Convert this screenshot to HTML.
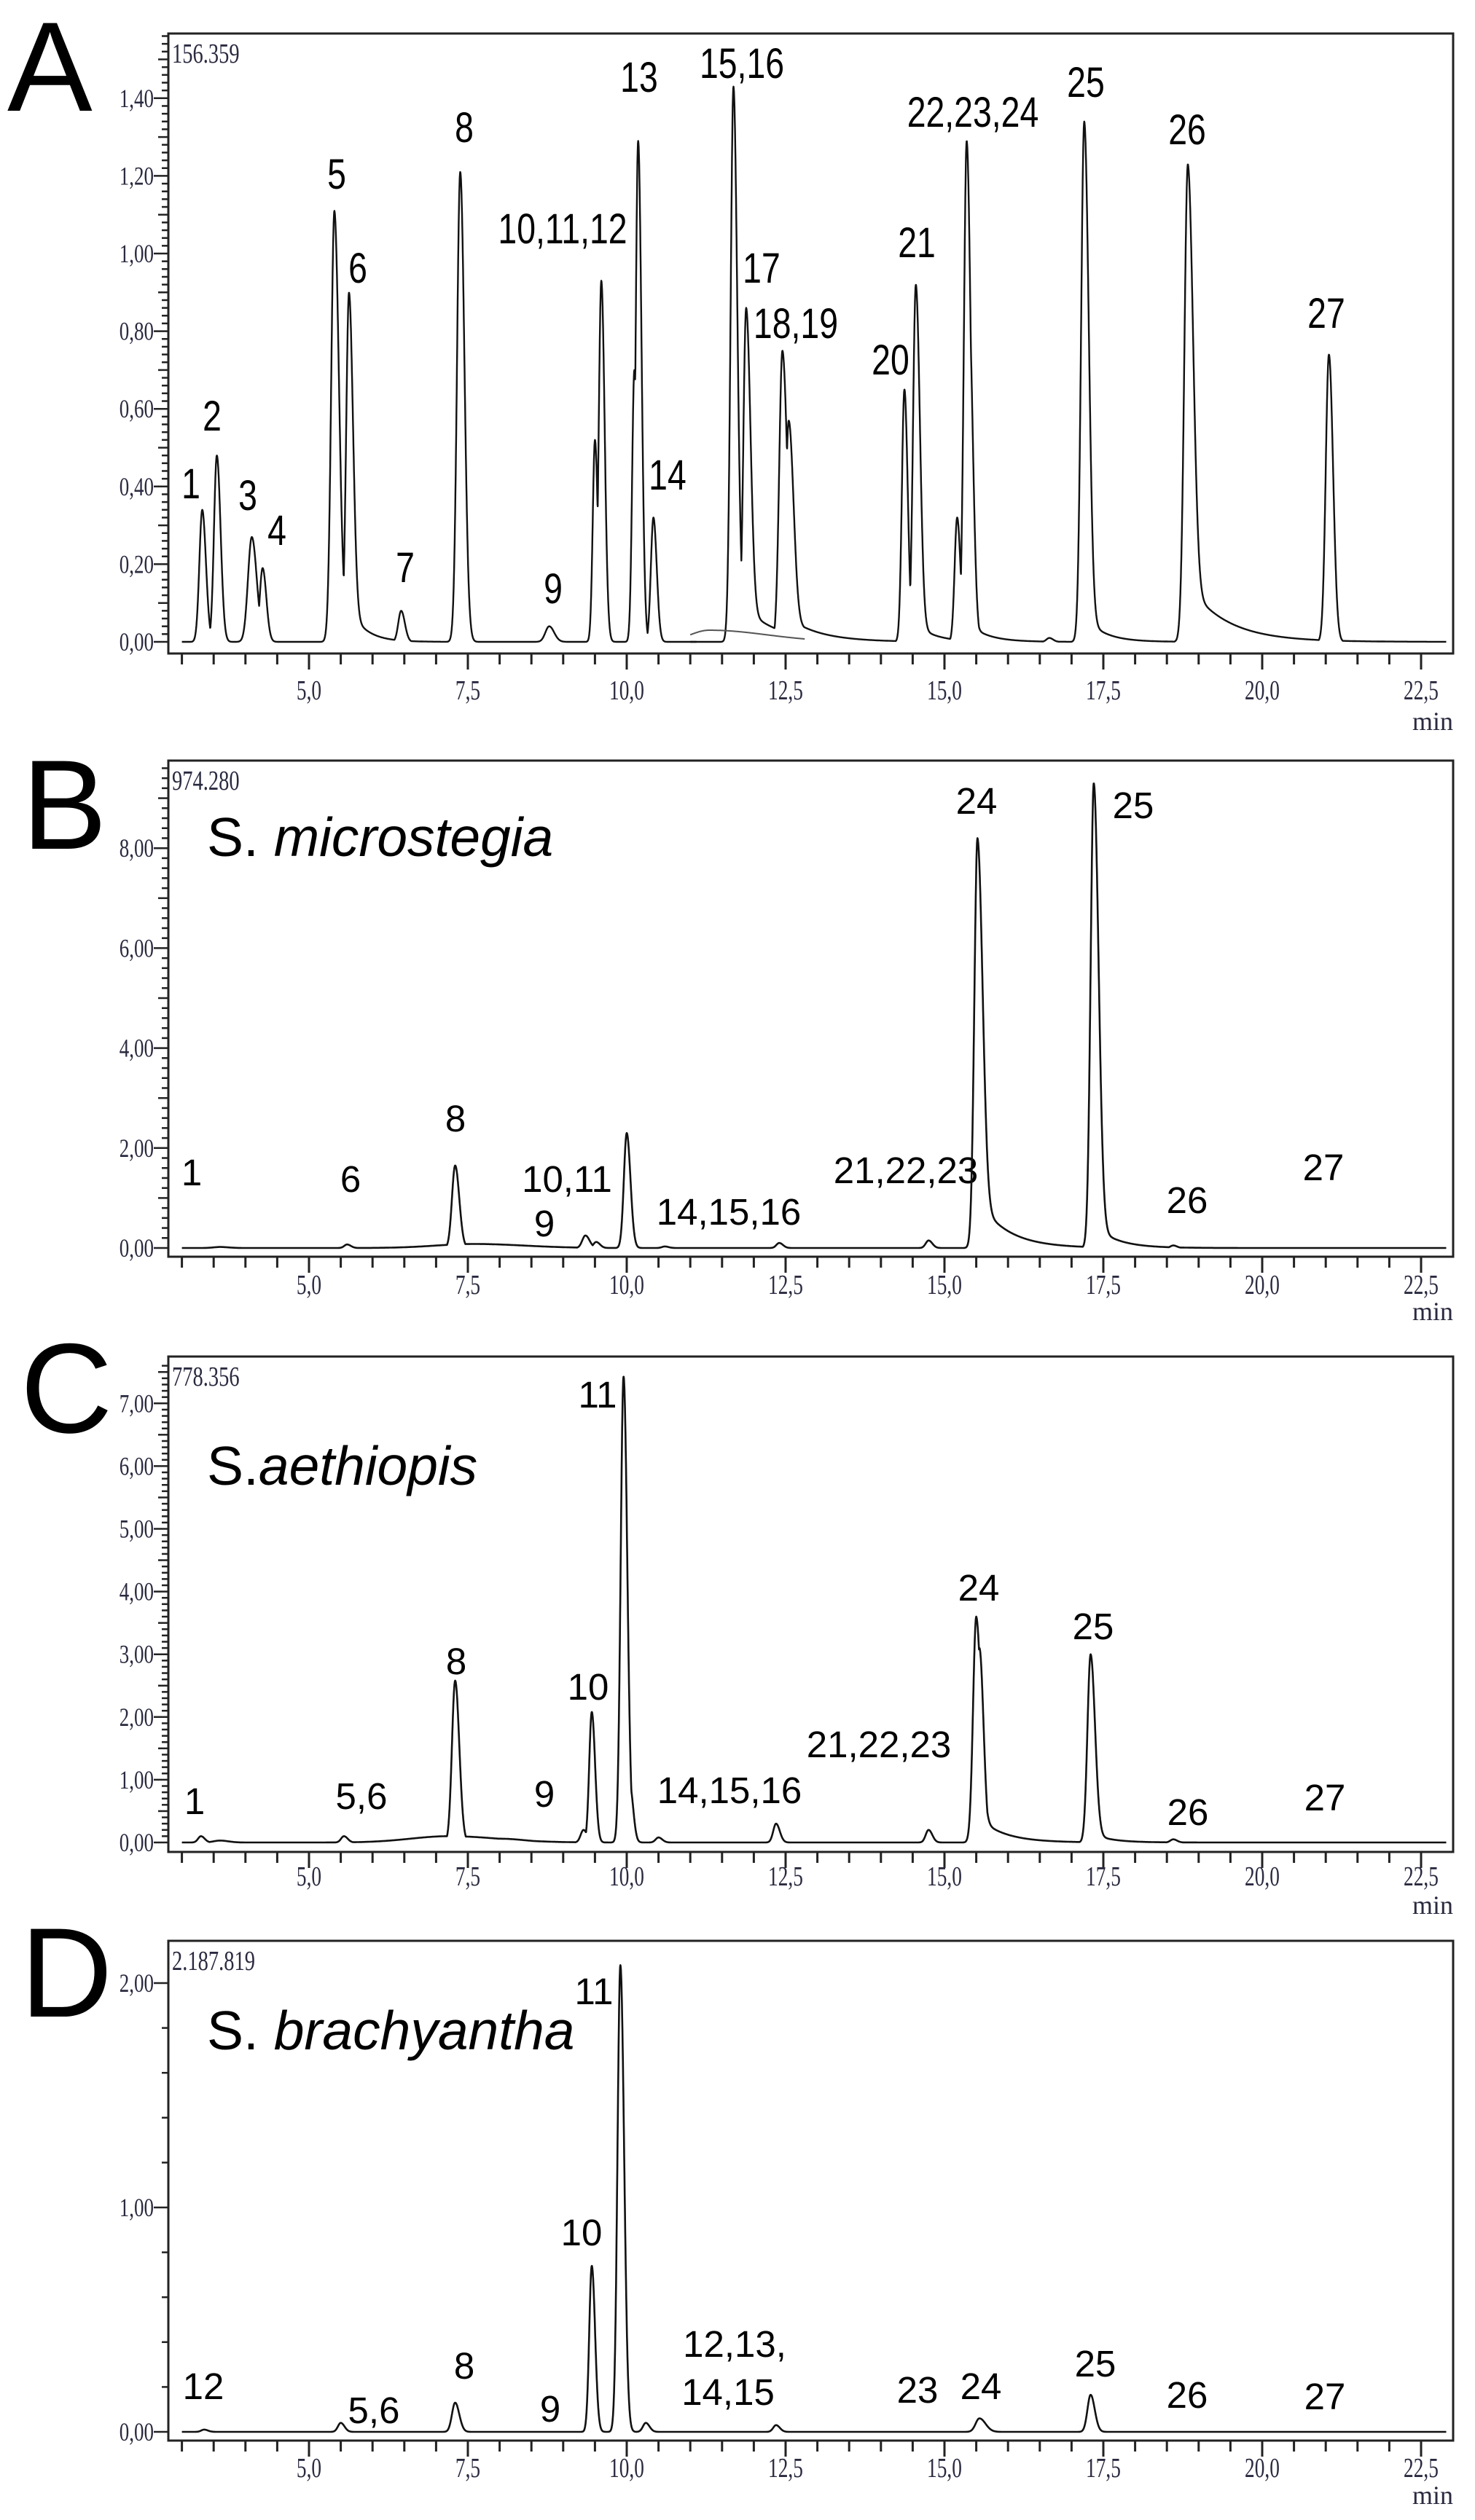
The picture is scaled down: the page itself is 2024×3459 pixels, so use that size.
<!DOCTYPE html>
<html><head><meta charset="utf-8">
<style>
html,body{margin:0;padding:0;background:#fff;}
svg{display:block;}
.lab{font-family:"Liberation Sans",Arial,sans-serif;fill:#000;}
.tk{font-family:"Liberation Serif",serif;fill:#2a2a40;}
</style></head>
<body>
<svg id="s" width="2024" height="3459" viewBox="0 0 2024 3459" xmlns="http://www.w3.org/2000/svg"></svg>
<script>
const S=document.getElementById('s');
let out='';
function X(t){return 424+(t-5)*87.2;}
function pk(t,p){
  const [t0,h,s0,r0,k0,tau0]=p; const s=s0||0.045, r=r0||1.3, k=k0||0, tau=tau0||0.3;
  if(t<t0){const z=(t-t0)/s;return h*Math.exp(-0.5*z*z);}
  const z=(t-t0)/(s*r);
  return h*((1-k)*Math.exp(-0.5*z*z)+k*Math.exp(-(t-t0)/tau));
}
function trace(peaks,y0,ppu,t1,t2,w,col){
  let d='';
  for(let t=t1;t<=t2;t+=0.004){
    let v=0;for(const p of peaks)v=Math.max(v,pk(t,p));
    const y=y0-v*ppu;
    d+=(d?'L':'M')+X(t).toFixed(1)+' '+y.toFixed(1);
  }
  out+=`<path d="${d}" fill="none" stroke="${col||'#111'}" stroke-width="${w||2.6}" stroke-linejoin="round"/>`;
}
function panel(cfg){
  const L=231,R=1994;
  out+=`<rect x="${L}" y="${cfg.top}" width="${R-L}" height="${cfg.axis-cfg.top}" fill="none" stroke="#222" stroke-width="3"/>`;
  for(let t=3.0;t<=22.51;t+=0.5){
    const x=X(t); const maj=Math.abs(t/2.5-Math.round(t/2.5))<1e-6;
    out+=`<line x1="${x}" y1="${cfg.axis}" x2="${x}" y2="${cfg.axis+(maj?22:15)}" stroke="#222" stroke-width="3"/>`;
    if(maj&&t>=5) out+=`<text class="tk" x="${x}" y="${cfg.xl}" font-size="38" text-anchor="middle" transform="translate(${x} 0) scale(0.72 1) translate(${-x} 0)">${t.toFixed(1).replace('.',',')}</text>`;
  }
  out+=`<text class="tk" x="1994" y="${cfg.ml}" font-size="36" text-anchor="end" fill="#111">min</text>`;
  const n=Math.round(cfg.ymax/cfg.minor);
  for(let i=0;i<=n;i++){
    const v=i*cfg.minor,y=cfg.y0-v*cfg.ppu; if(y<cfg.top+3)break;
    const isMaj=Math.abs(v/cfg.major-Math.round(v/cfg.major))<1e-6;
    const isMid=cfg.mid&&Math.abs(v/cfg.mid-Math.round(v/cfg.mid))<1e-6;
    const len=isMaj?20:(isMid?14:9);
    out+=`<line x1="${L-len}" y1="${y}" x2="${L}" y2="${y}" stroke="#222" stroke-width="2.5"/>`;
    if(isMaj){
      const tx=L-20;
      out+=`<text class="tk" x="${tx}" y="${y+12}" font-size="36" text-anchor="end" transform="translate(${tx} 0) scale(0.75 1) translate(${-tx} 0)">${v.toFixed(2).replace('.',',')}</text>`;
    }
  }
  out+=`<text class="tk" x="236" y="${cfg.top+40}" font-size="38" fill="#4a2020" transform="translate(236 0) scale(0.75 1) translate(-236 0)">${cfg.scale}</text>`;
  out+=`<text class="lab" x="${cfg.Lx}" y="${cfg.Ly}" font-size="175">${cfg.letter}</text>`;
  if(cfg.sp) out+=`<text class="lab" x="284" y="${cfg.spy}" font-size="75">S.${cfg.spgap?' ':''}<tspan font-style="italic">${cfg.sp}</tspan></text>`;
  for(const l of cfg.labels){
    const [x,y,txt]=l;
    if(cfg.narrow) out+=`<text class="lab" x="${x}" y="${y}" font-size="58" text-anchor="middle" transform="translate(${x} 0) scale(0.8 1) translate(${-x} 0)">${txt}</text>`;
    else out+=`<text class="lab" x="${x}" y="${y}" font-size="51" text-anchor="middle">${txt}</text>`;
  }
}
const A={top:46,axis:897,y0:881,ppu:533,ymax:1.56,minor:0.02,mid:0.1,major:0.2,xl:960,ml:1002,scale:'156.359',letter:'A',Lx:10,Ly:152,narrow:true,
labels:[[262,684,'1'],[291,591,'2'],[340,700,'3'],[380,748,'4'],[462,259,'5'],[491,388,'6'],[556,799,'7'],[637,195,'8'],[759,828,'9'],[772,334,'10,11,12'],[877,126,'13'],[916,672,'14'],[1018,107,'15,16'],[1045,388,'17'],[1092,464,'18,19'],[1222,514,'20'],[1258,353,'21'],[1335,174,'22,23,24'],[1490,133,'25'],[1629,198,'26'],[1820,450,'27']]};
panel(A);
trace([[3.32,0.34],[3.55,0.48],[4.1,0.27,0.06],[4.27,0.19],[5.4,1.11,0.05,1.4,0.08,0.25],[5.63,0.90,0.045,1.4,0.1,0.25],[6.45,0.08],[7.38,1.21,0.05],[8.78,0.04,0.06],[9.5,0.52,0.035],[9.6,0.93,0.04],[10.12,0.7,0.035],[10.18,1.29,0.04],[10.42,0.32,0.04]],881,533,3.0,11.1,2.4);
trace([[11.68,1.43,0.045,1.3,0.06,0.5],[11.88,0.86,0.045,1.5,0.1,0.5],[12.45,0.75,0.05,1.5,0.1,0.5],[12.55,0.57,0.05,1.5,0.1,0.5],[14.37,0.65,0.04],[14.55,0.92,0.045,1.4,0.05,0.3],[15.2,0.32,0.04],[15.35,1.29,0.045,1.4,0.04,0.3],[15.38,0.88,0.05],[16.65,0.01],[17.2,1.34,0.05,1.4,0.05,0.3],[18.83,1.23,0.055,1.5,0.12,0.6],[21.05,0.74,0.05]],881,533,11.0,22.9,2.4);
trace([[11.3,0.03,0.3,3]],881,533,11.0,12.8,2,'#555');
const B={top:1044,axis:1725,y0:1713,ppu:68.6,ymax:9.6,minor:0.2,mid:1,major:2,xl:1776,ml:1812,scale:'974.280',letter:'B',Lx:30,Ly:1165,sp:'microstegia',spgap:true,spy:1175,
labels:[[263,1627,'1'],[481,1636,'6'],[625,1553,'8'],[778,1636,'10,11'],[747,1697,'9'],[1000,1681,'14,15,16'],[1243,1624,'21,22,23'],[1340,1117,'24'],[1555,1123,'25'],[1629,1665,'26'],[1816,1620,'27']]};
panel(B);
trace([[3.6,0.02,0.1],[5.6,0.07],[7.3,1.65,0.05],[7.6,0.08,0.6],[9.35,0.25,0.05],[9.52,0.12],[10.0,2.3,0.045],[10.6,0.03],[12.4,0.1],[14.75,0.15],[15.52,8.2,0.05,1.6,0.12,0.45],[15.6,0.15],[17.35,9.3,0.05,1.5,0.05,0.35],[18.6,0.05]],1713,68.6,3.0,22.9,2.6);
const C={top:1862,axis:2542,y0:2529,ppu:86.1,ymax:7.6,minor:0.1,mid:0.5,major:1,xl:2588,ml:2627,scale:'778.356',letter:'C',Lx:28,Ly:1966,sp:'aethiopis',spgap:false,spy:2038,
labels:[[267,2490,'1'],[496,2483,'5,6'],[626,2298,'8'],[747,2480,'9'],[807,2333,'10'],[820,1932,'11'],[1001,2475,'14,15,16'],[1206,2412,'21,22,23'],[1343,2197,'24'],[1500,2250,'25'],[1630,2505,'26'],[1818,2485,'27']]};
panel(C);
trace([[3.3,0.1],[3.6,0.03,0.1],[5.55,0.1],[7.3,2.58,0.05],[7.2,0.1,0.6],[8.0,0.06,0.3],[9.32,0.2],[9.45,2.08,0.04],[9.95,7.43,0.045],[10.05,0.9,0.04],[10.5,0.08],[12.35,0.3],[14.75,0.2],[15.5,3.6,0.05,1.5,0.12,0.4],[15.55,3.1,0.05],[15.65,0.1],[17.3,3.0,0.05,1.4,0.05,0.3],[18.6,0.05]],2529,86.1,3.0,22.9,2.6);
const D={top:2664,axis:3350,y0:3338,ppu:308,ymax:2.1,minor:0.2,mid:0,major:1,xl:3400,ml:3437,scale:'2.187.819',letter:'D',Lx:28,Ly:2768,sp:'brachyantha',spgap:true,spy:2813,
labels:[[279,3293,'12'],[513,3326,'5,6'],[637,3265,'8'],[755,3324,'9'],[798,3082,'10'],[815,2751,'11'],[1008,3235,'12,13,'],[999,3301,'14,15'],[1259,3298,'23'],[1346,3293,'24'],[1503,3262,'25'],[1629,3305,'26'],[1818,3307,'27']]};
panel(D);
trace([[3.35,0.01],[5.5,0.04],[7.3,0.13,0.05],[9.45,0.74,0.04],[9.9,2.08,0.045],[10.3,0.04],[12.35,0.03],[15.55,0.06,0.06,1.6],[17.3,0.165,0.05]],3338,308,3.0,22.9,2.6);
S.innerHTML=out;
</script>
</body></html>
